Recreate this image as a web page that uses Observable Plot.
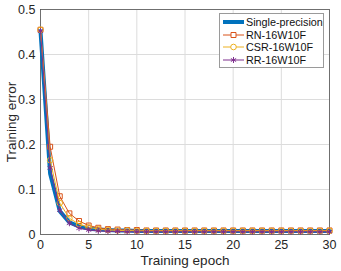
<!DOCTYPE html>
<html><head><meta charset="utf-8">
<script src="https://cdn.jsdelivr.net/npm/d3@7"></script>
<script src="https://cdn.jsdelivr.net/npm/@observablehq/plot@0.6"></script>
<style>
body{margin:0;background:#fff;font-family:"Liberation Sans",Arial,sans-serif;}
#wrap{position:relative;width:341px;height:271px;}
#wrap svg g[aria-label="x-axis tick label"] text, #wrap svg g[aria-label="y-axis tick label"] text{font-size:12.5px;}
#wrap svg g[aria-label="x-axis label"] text, #wrap svg g[aria-label="y-axis label"] text{font-size:13.5px;}
#legend{position:absolute;left:219px;top:13px;width:105px;height:55px;border:1px solid #9a9a9a;background:#fff;font-size:10.8px;color:#111;box-sizing:border-box;padding-top:2px;white-space:nowrap;overflow:hidden;}
#legend .row{display:flex;align-items:center;height:12.5px;}
#legend svg{margin-left:2px;margin-right:1px;flex:none;}
</style>
</head><body><div id="wrap"></div>
<script>
const epochs = d3.range(0, 31);
const seriesNames = ["Single-precision", "RN-16W10F", "CSR-16W10F", "RR-16W10F"];
const colors = ["#0072BD", "#D95319", "#EDB120", "#7E2F8E"];
const symbols = [null, "square", "circle", "asterisk"];
const single = [0.452,0.135,0.052,0.027,0.018,0.013,0.011,0.010,0.009,0.009,0.008,0.008,0.008,0.008,0.008,0.008,0.008,0.008,0.008,0.008,0.008,0.008,0.008,0.008,0.008,0.008,0.008,0.008,0.008,0.008,0.008];
const rn     = [0.455,0.195,0.085,0.047,0.030,0.020,0.015,0.012,0.011,0.010,0.010,0.009,0.009,0.009,0.009,0.009,0.009,0.009,0.009,0.009,0.009,0.009,0.009,0.009,0.009,0.009,0.009,0.009,0.009,0.009,0.009];
const csr    = [0.455,0.165,0.070,0.036,0.023,0.016,0.012,0.010,0.009,0.009,0.008,0.008,0.008,0.008,0.008,0.008,0.008,0.008,0.008,0.008,0.008,0.008,0.008,0.008,0.008,0.008,0.008,0.008,0.008,0.008,0.008];
const rr     = [0.452,0.148,0.054,0.025,0.014,0.010,0.008,0.007,0.007,0.006,0.006,0.006,0.006,0.006,0.006,0.006,0.006,0.006,0.006,0.006,0.006,0.006,0.006,0.006,0.006,0.006,0.006,0.006,0.006,0.006,0.006];
const xTicks = [0,5,10,15,20,25,30];
const yTicks = [0,0.1,0.2,0.3,0.4,0.5];

const allSeries = [single, rn, csr, rr];
const rows = allSeries.map((vals, i) => epochs.map((e, j) => ({epoch: e, err: vals[j], s: seriesNames[i]})));

const marks = [
  Plot.gridX(xTicks, {stroke: "#dcdcdc", strokeOpacity: 1}),
  Plot.gridY(yTicks, {stroke: "#dcdcdc", strokeOpacity: 1}),
  Plot.axisX(xTicks, {tickSize: 0, tickPadding: 6, label: "Training epoch", labelAnchor: "center", labelArrow: "none", labelOffset: 30}),
  Plot.axisY(yTicks, {tickSize: 0, tickPadding: 5, tickFormat: d => d === 0 ? "0" : d.toFixed(1), label: "Training error", labelAnchor: "center", labelArrow: "none", labelOffset: 34}),
  Plot.frame({stroke: "#555", strokeWidth: 0.8})
];
marks.push(Plot.line(rows[0], {x: "epoch", y: "err", stroke: colors[0], strokeWidth: 4}));
for (let i = 1; i < 4; i++) {
  marks.push(Plot.line(rows[i], {x: "epoch", y: "err", stroke: colors[i], strokeWidth: 1}));
  marks.push(Plot.dot(rows[i], {x: "epoch", y: "err", stroke: colors[i], symbol: symbols[i], r: 2.8, fill: "none", strokeWidth: 1}));
}

const chart = Plot.plot({
  width: 341, height: 271,
  marginLeft: 40, marginRight: 12, marginTop: 9, marginBottom: 37,
  style: {fontFamily: '"Liberation Sans", Arial, sans-serif', color: "#262626", background: "#fff"},
  x: {domain: [0, 30]},
  y: {domain: [0, 0.5]},
  marks
});
const wrap = document.getElementById("wrap");
wrap.appendChild(chart);

const leg = document.createElement("div");
leg.id = "legend";
seriesNames.forEach((name, i) => {
  const row = document.createElement("div");
  row.className = "row";
  const ns = "http://www.w3.org/2000/svg";
  const svg = document.createElementNS(ns, "svg");
  svg.setAttribute("width", 23); svg.setAttribute("height", 10);
  const ln = document.createElementNS(ns, "line");
  ln.setAttribute("x1", 1); ln.setAttribute("x2", 22); ln.setAttribute("y1", 5); ln.setAttribute("y2", 5);
  ln.setAttribute("stroke", colors[i]); ln.setAttribute("stroke-width", i === 0 ? 4 : 1);
  svg.appendChild(ln);
  if (symbols[i]) {
    const g = document.createElementNS(ns, "path");
    g.setAttribute("d", d3.symbol(i === 1 ? d3.symbolSquare : i === 2 ? d3.symbolCircle : d3.symbolAsterisk, 25)());
    g.setAttribute("transform", "translate(11.5,5)");
    g.setAttribute("fill", i === 1 || i === 2 ? "#fff" : "none");
    g.setAttribute("stroke", colors[i]);
    svg.appendChild(g);
  }
  row.appendChild(svg);
  const t = document.createElement("span");
  t.textContent = name;
  row.appendChild(t);
  leg.appendChild(row);
});
wrap.appendChild(leg);
</script></body></html>
